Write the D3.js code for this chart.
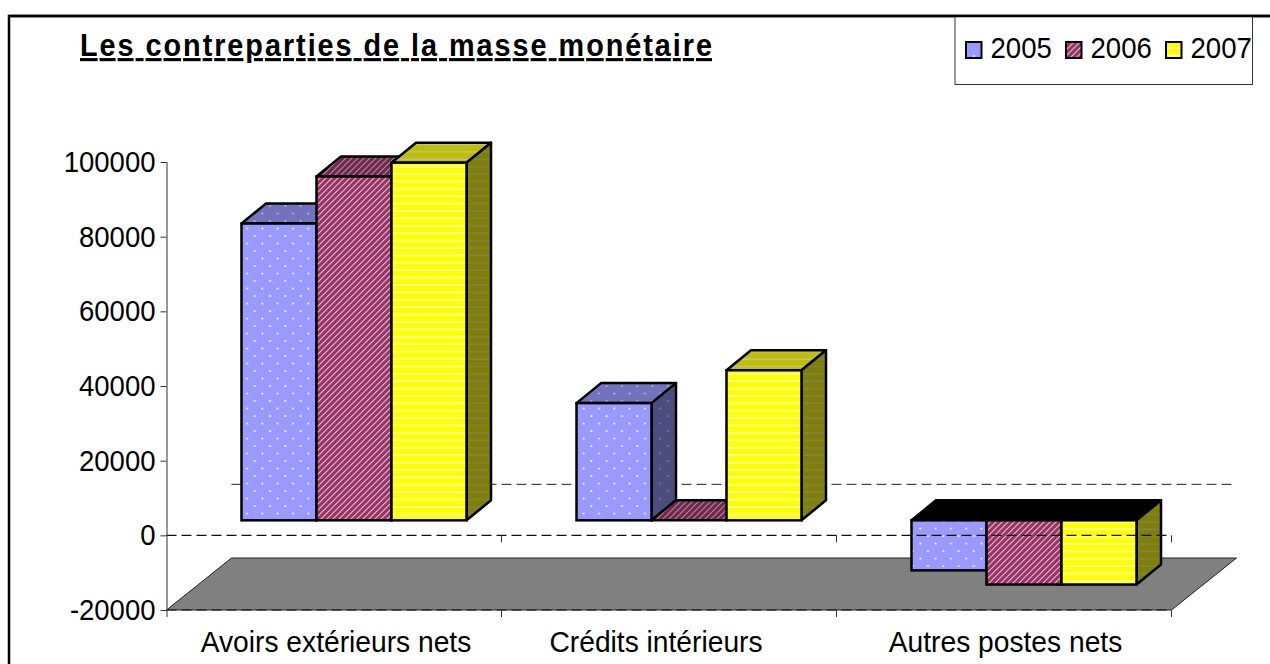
<!DOCTYPE html>
<html lang="fr"><head><meta charset="utf-8">
<style>
html,body{margin:0;padding:0;background:#fff;overflow:hidden}
svg{display:block}
text{font-family:"Liberation Sans",Arial,sans-serif;fill:#000}
</style>
<script src="https://cdn.jsdelivr.net/npm/d3@7/dist/d3.min.js"></script>
</head><body>
<svg id="c" width="1270" height="664"></svg>
<script>
const categories = ["Avoirs extérieurs nets", "Crédits intérieurs", "Autres postes nets"];
const years = ["2005", "2006", "2007"];
const values2005 = [79500, 31400, -13400];
const values2006 = [92100, 0, -17200];
const values2007 = [95800, 40200, -17200];
const yTicks = [-20000, 0, 20000, 40000, 60000, 80000, 100000];
const titleText = "Les contreparties de la masse monétaire";

const seriesValues = [values2005, values2006, values2007];
const svg = d3.select("#c");
const defs = svg.append("defs");

// patterns
const pDots = defs.append("pattern").attr("id","p0").attr("patternUnits","userSpaceOnUse")
  .attr("width",15.3).attr("height",15);
pDots.append("rect").attr("width",15.3).attr("height",15).attr("fill","#9999ff");
[[9.9,11],[2.25,3.5]].forEach(d=>pDots.append("rect").attr("x",d[0]-.8).attr("y",d[1]-.8).attr("width",1.7).attr("height",1.7).attr("fill","#fff"));

const pDiag = defs.append("pattern").attr("id","p1").attr("patternUnits","userSpaceOnUse")
  .attr("width",6).attr("height",6);
pDiag.append("rect").attr("width",6).attr("height",6).attr("fill","#993366");
["M-1,1L1,-1","M0,6L6,0","M5,7L7,5"].forEach(d=>pDiag.append("path").attr("d",d).attr("stroke","#dcb8ca").attr("stroke-width",1.2));

const pHor = defs.append("pattern").attr("id","p2").attr("patternUnits","userSpaceOnUse")
  .attr("width",7.4).attr("height",7.4);
pHor.append("rect").attr("width",7.4).attr("height",7.4).attr("fill","#ffff00");
pHor.append("rect").attr("y",3.2).attr("width",7.4).attr("height",1.3).attr("fill","#ffffe8");

// scales
const y = d3.scaleLinear().domain([-20000,100000]).range([610,162]);
const x0 = d3.scaleBand().domain(categories).range([166.5,1171.5]);
const x1 = d3.scaleBand().domain(years).range([75,300]);

const floorDx = 65, floorDy = -52;
const barDx = 24.5, barDy = -20, barShift = -15;
const left = x0.range()[0], right = x0.range()[1];
const poly = pts => pts.map(p=>p.join(",")).join(" ");
const edgeW = 2.5;

// frame
svg.append("path").attr("d","M1270,16H9V664").attr("fill","none").attr("stroke","#000").attr("stroke-width",2.5);

// floor
svg.append("polygon")
  .attr("points",poly([[left,y(-20000)],[left+floorDx,y(-20000)+floorDy],[right+floorDx,y(-20000)+floorDy],[right,y(-20000)]]))
  .attr("fill","#808080").attr("stroke","#222").attr("stroke-width",1);

// back gridline
svg.append("line").attr("x1",left+floorDx).attr("x2",right+floorDx)
  .attr("y1",y(0)+floorDy+1).attr("y2",y(0)+floorDy+1)
  .attr("stroke","#222").attr("stroke-width",1).attr("stroke-dasharray","10,5");

// bars
categories.forEach((cat,ci)=>{
  const g = svg.append("g").attr("class","group");
  years.forEach((yr,si)=>{
    const v = seriesValues[si][ci];
    const xa = x0(cat)+x1(yr), xb = xa+x1.bandwidth();
    const base = y(0)+barShift, end = y(v)+barShift;
    const top = Math.min(base,end), bottom = Math.max(base,end);
    const fill = `url(#p${si})`;
    const bar = g.append("g");
    const topPts = poly([[xa,top],[xa+barDx,top+barDy],[xb+barDx,top+barDy],[xb,top]]);
    const sidePts = poly([[xb,top],[xb+barDx,top+barDy],[xb+barDx,bottom+barDy],[xb,bottom]]);
    if(v<0){
      bar.append("polygon").attr("points",topPts).attr("fill","#000").attr("stroke","#000").attr("stroke-width",edgeW).attr("stroke-linejoin","round");
    } else {
      bar.append("polygon").attr("points",topPts).attr("fill",fill);
      bar.append("polygon").attr("points",topPts).attr("fill","#000").attr("fill-opacity",.25).attr("stroke","#000").attr("stroke-width",edgeW).attr("stroke-linejoin","round");
    }
    bar.append("polygon").attr("points",sidePts).attr("fill",fill);
    bar.append("polygon").attr("points",sidePts).attr("fill","#000").attr("fill-opacity",.5).attr("stroke","#000").attr("stroke-width",edgeW).attr("stroke-linejoin","round");
    bar.append("rect").attr("x",xa).attr("y",top).attr("width",xb-xa).attr("height",bottom-top)
      .attr("fill",fill).attr("stroke","#000").attr("stroke-width",edgeW);
  });
});

// front dashed lines
[0,-20000].forEach(v=>{
  svg.append("line").attr("x1",left).attr("x2",right).attr("y1",y(v)).attr("y2",y(v))
    .attr("stroke","#111").attr("stroke-width",1.2).attr("stroke-dasharray","10,5");
});

// y axis
const yAxis = svg.append("g").attr("transform",`translate(${left},0)`)
  .call(d3.axisLeft(y).tickValues(yTicks).tickFormat(d=>String(d)).tickSize(6).tickPadding(5).tickSizeOuter(0));
yAxis.select(".domain").attr("d",`M0.5,${y(100000)}V${y(-20000)+7}`).attr("stroke","#333");
yAxis.selectAll(".tick line").attr("stroke","#333");
yAxis.selectAll("text").attr("font-size",30).attr("font-family","Liberation Sans").attr("fill","#000")
  .attr("x",0).attr("transform","translate(-11,0) scale(.917,1)");

// category ticks on both lines
const edges = categories.map(c=>x0(c)+x0.bandwidth());
[0,-20000].forEach(v=>{
  svg.selectAll(null).data(edges).enter().append("line")
    .attr("x1",d=>d).attr("x2",d=>d).attr("y1",y(v)).attr("y2",y(v)+7)
    .attr("stroke","#333").attr("stroke-width",1);
});

// category labels
const labelNudge = [2, -13, 1.5];
svg.selectAll(".cat").data(categories).enter().append("text").attr("class","cat")
  .attr("transform",(d,i)=>`translate(${x0(d)+x0.bandwidth()/2+labelNudge[i]},652) scale(.94,1)`)
  .attr("text-anchor","middle")
  .attr("font-size",30).text(d=>d);

// title
svg.append("text").attr("transform","translate(80,56) scale(.93,1)").attr("font-size",31).attr("font-weight","bold")
  .attr("textLength",632/.93).attr("lengthAdjust","spacing")
  .attr("text-decoration","underline").text(titleText);

// legend
svg.append("rect").attr("x",955).attr("y",16).attr("width",297.5).attr("height",68.5)
  .attr("fill","#fff").attr("stroke","#333").attr("stroke-width",1);
const legendX = [966,1066,1166];
years.forEach((yr,i)=>{
  svg.append("rect").attr("x",legendX[i]).attr("y",42).attr("width",15.5).attr("height",16)
    .attr("fill",`url(#p${i})`).attr("stroke","#000").attr("stroke-width",2);
  svg.append("text").attr("transform",`translate(${legendX[i]+24.5},58) scale(.92,1)`).attr("font-size",30).text(yr);
});
// redraw frame top above legend
svg.append("line").attr("x1",9).attr("x2",1270).attr("y1",16).attr("y2",16).attr("stroke","#000").attr("stroke-width",2.5);
</script>
</body></html>
